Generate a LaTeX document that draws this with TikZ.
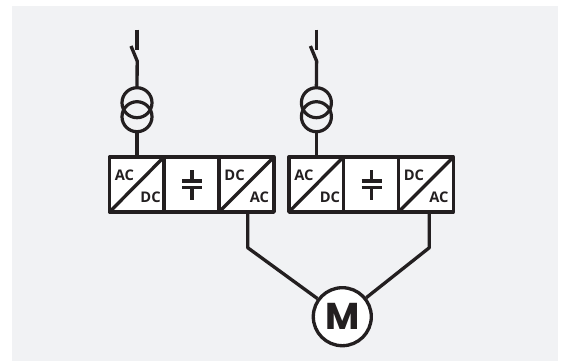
\documentclass[tikz,border=0pt]{standalone}
\usepackage{fontspec}
\setmainfont{Open Sans}
\newfontfamily\motorfont{Poppins}
\definecolor{bgc}{HTML}{F1F2F4}
\definecolor{ink}{HTML}{231F20}
\tikzset{
  x=0.75pt,y=-0.75pt,
  ln/.style={draw=ink,line width=2.5pt,line cap=butt},
  cell/.style={draw=ink,fill=white,line width=2.5pt,line join=round},
  lab/.style={text=ink,font=\fontsize{11pt}{12pt}\selectfont\bfseries,inner sep=0pt},
  coil/.style={circle,draw=ink,line width=2.4pt,minimum size=30*0.75pt,inner sep=0pt},
  motor/.style={circle,draw=ink,fill=white,line width=2.5pt,minimum size=58*0.75pt,inner sep=0pt,text=ink,font=\motorfont\fontsize{28pt}{29pt}\selectfont\bfseries}
}
\begin{document}
\begin{tikzpicture}
\useasboundingbox (0,0) rectangle (565,362);
\fill[bgc] (12,5.5) rectangle (558,361);
\foreach \n/\ox in {a/0,b/179.4}{
  \begin{scope}[shift={(\ox,0)}]
    \coordinate (\n top) at (137,29.5);
    \coordinate (\n topend) at (137,49.5);
    \coordinate (\n bladeA) at (131,46);
    \coordinate (\n bladeB) at (137.2,61);
    \coordinate (\n ct) at (137,157);
    \node[coil] (\n c1) at (137,102.7) {};
    \node[coil] (\n c2) at (137,116.7) {};
    \draw[cell] (109.5,157) rectangle (164,212);
    \draw[cell] (164,157) rectangle (219,212);
    \draw[cell] (219,157) rectangle (274,212);
    \coordinate (\n ac1) at (109.5,212); \coordinate (\n ac2) at (164,157);
    \coordinate (\n dc1) at (219,212); \coordinate (\n dc2) at (274,157);
    \draw[ln] (\n ac1) -- (\n ac2);
    \draw[ln] (\n dc1) -- (\n dc2);
    \draw[ln] (\n top) -- (\n topend);
    \draw[ln,line join=round] (\n bladeA) -- (\n bladeB) -- (\n c1.north);
    \draw[ln] (\n c2.south) -- (\n ct);
    \node[lab] (\n l1) at (124.5,175) {AC};
    \node[lab] (\n l2) at (150.5,197) {DC};
    \node[lab] (\n l3) at (234.5,175) {DC};
    \node[lab] (\n l4) at (259.5,197) {AC};
    \draw[ln] (192,170) -- (192,181);
    \draw[ln] (192,187.5) -- (192,200);
    \draw[ln] (182.2,181) -- (202.2,181);
    \draw[ln] (182.2,187.5) -- (202.2,187.5);
  \end{scope}
}
\node[motor] (m) at (342.3,316.7) {M};
\coordinate (la) at (247.7,212);
\coordinate (lb) at (247.7,247.7);
\coordinate (ra) at (429.3,212);
\coordinate (rb) at (429.3,247.7);
\draw[ln,line join=round] (la) -- (lb) -- (m);
\draw[ln,line join=round] (ra) -- (rb) -- (m);
\end{tikzpicture}
\end{document}
